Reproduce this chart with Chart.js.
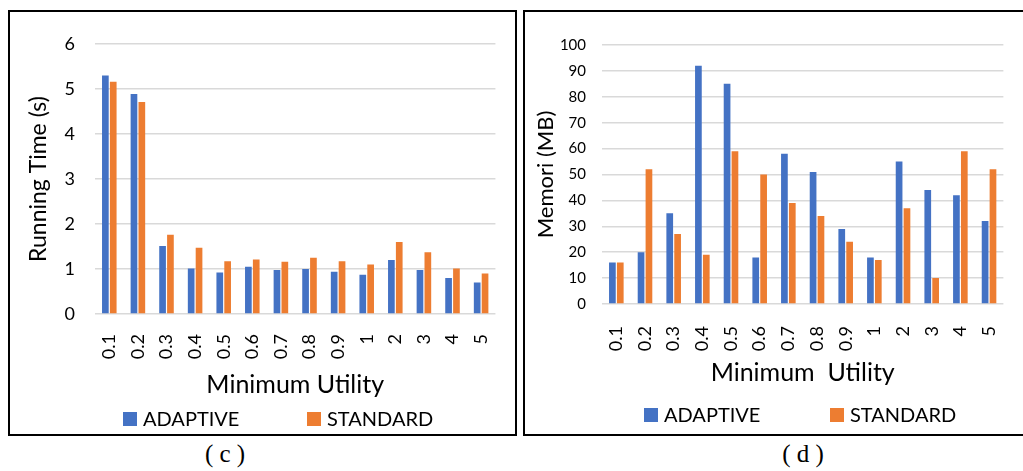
<!DOCTYPE html>
<html>
<head>
<meta charset="utf-8">
<script src="https://cdn.jsdelivr.net/npm/chart.js@4.4.1/dist/chart.umd.min.js"></script>
<style>
  html, body { margin: 0; padding: 0; background: #fff; overflow: hidden; }
  body { width: 1023px; height: 471px; position: relative; }
  .box { position: absolute; border: 2px solid #000; box-sizing: border-box; }
  .box canvas { position: absolute; left: 0; top: 0; }
  .caption { position: absolute; font-family: "Liberation Serif", serif; font-size: 25px; transform: translateX(-50%); white-space: pre; }
</style>
</head>
<body>
<div class="box" style="left:8px; top:10px; width:509px; height:426px;">
  <canvas id="timeChart" width="505" height="422"></canvas>
</div>
<div class="box" style="left:523px; top:10px; width:504px; height:426px;">
  <canvas id="memChart" width="500" height="422"></canvas>
</div>
<div class="caption" style="left:225px; top:440px;">( c )</div>
<div class="caption" style="left:803px; top:440px;">( d )</div>
<script>
// x categories (minimum utility)
const utilityLabels = ['0.1', '0.2', '0.3', '0.4', '0.5', '0.6', '0.7', '0.8', '0.9', '1', '2', '3', '4', '5'];

// (c) running time in seconds
const timeAdaptive = [5.30, 4.89, 1.51, 1.01, 0.92, 1.05, 0.98, 1.00, 0.94, 0.87, 1.20, 0.98, 0.80, 0.70];
const timeStandard = [5.16, 4.71, 1.76, 1.47, 1.17, 1.21, 1.16, 1.25, 1.17, 1.10, 1.60, 1.37, 1.01, 0.90];

// (d) memory in MB
const memAdaptive = [16, 20, 35, 92, 85, 18, 58, 51, 29, 18, 55, 44, 42, 32];
const memStandard = [16, 52, 27, 19, 59, 50, 39, 34, 24, 17, 37, 10, 59, 52];

const seriesNames = ['ADAPTIVE', 'STANDARD'];
const BLUE = '#4472C4';
const ORANGE = '#ED7D31';
const FONT = 'Lato, "Open Sans", sans-serif';

// simple legend drawn on the canvas, items placed at fixed x offsets
const boxLegend = {
  id: 'boxLegend',
  afterDraw(chart, args, opts) {
    const ctx = chart.ctx;
    ctx.save();
    ctx.font = opts.fontSize + 'px ' + FONT;
    ctx.textBaseline = 'middle';
    ctx.textAlign = 'left';
    chart.data.datasets.forEach((ds, i) => {
      const x = opts.x[i];
      ctx.fillStyle = ds.backgroundColor;
      ctx.fillRect(x, opts.y - 7, 14, 14);
      ctx.fillStyle = '#000';
      ctx.fillText(ds.label, x + 20, opts.y + 1);
    });
    ctx.restore();
  }
};

function makeChart(id, a, b, cfg) {
  return new Chart(document.getElementById(id), {
    type: 'bar',
    data: {
      labels: utilityLabels,
      datasets: [
        { label: seriesNames[0], data: a, backgroundColor: BLUE },
        { label: seriesNames[1], data: b, backgroundColor: ORANGE }
      ]
    },
    options: {
      responsive: false,
      animation: false,
      categoryPercentage: 0.55,
      barPercentage: 0.85,
      layout: { padding: cfg.padding },
      plugins: {
        legend: { display: false },
        tooltip: { enabled: false },
        boxLegend: cfg.legend
      },
      scales: {
        x: {
          grid: { display: false },
          border: { display: false },
          ticks: {
            color: '#000', autoSkip: false, minRotation: 90, maxRotation: 90,
            padding: cfg.xTickPad, font: { family: FONT, size: 18 }
          },
          title: {
            display: true, text: cfg.xTitle, color: '#000',
            padding: 0, font: { family: FONT, size: 25 }
          },
          afterFit: s => { s.height = cfg.xHeight; }
        },
        y: {
          min: 0, max: cfg.yMax,
          grid: { color: '#d9d9d9', lineWidth: 1.5, drawTicks: false },
          border: { display: false },
          ticks: {
            stepSize: cfg.yStep, color: '#000', padding: cfg.yTickPad,
            font: { family: FONT, size: cfg.yTickSize }
          },
          title: {
            display: true, text: cfg.yTitle, color: '#000',
            padding: { top: cfg.yTitlePad }, font: { family: FONT, size: cfg.yTitleSize }
          },
          afterFit: s => { s.width = cfg.yWidth; }
        }
      }
    },
    plugins: [boxLegend]
  });
}

makeChart('timeChart', timeAdaptive, timeStandard, {
  padding: { left: 0, top: 32, right: 8, bottom: 34 },
  xTitle: 'Minimum Utility', xHeight: 86, xTickPad: 12,
  yTitle: 'Running Time (s)', yTitleSize: 23, yTitlePad: 15,
  yMax: 6, yStep: 1, yTickPad: 20, yTickSize: 18, yWidth: 85,
  legend: { x: [113, 297], y: 407, fontSize: 20 }
});

makeChart('memChart', memAdaptive, memStandard, {
  padding: { left: 0, top: 33, right: 10, bottom: 46 },
  xTitle: 'Minimum  Utility', xHeight: 84, xTickPad: 14,
  yTitle: 'Memori (MB)', yTitleSize: 22, yTitlePad: 8,
  yMax: 100, yStep: 10, yTickPad: 16, yTickSize: 15, yWidth: 77,
  legend: { x: [119, 305], y: 403, fontSize: 20 }
});
</script>
</body>
</html>
